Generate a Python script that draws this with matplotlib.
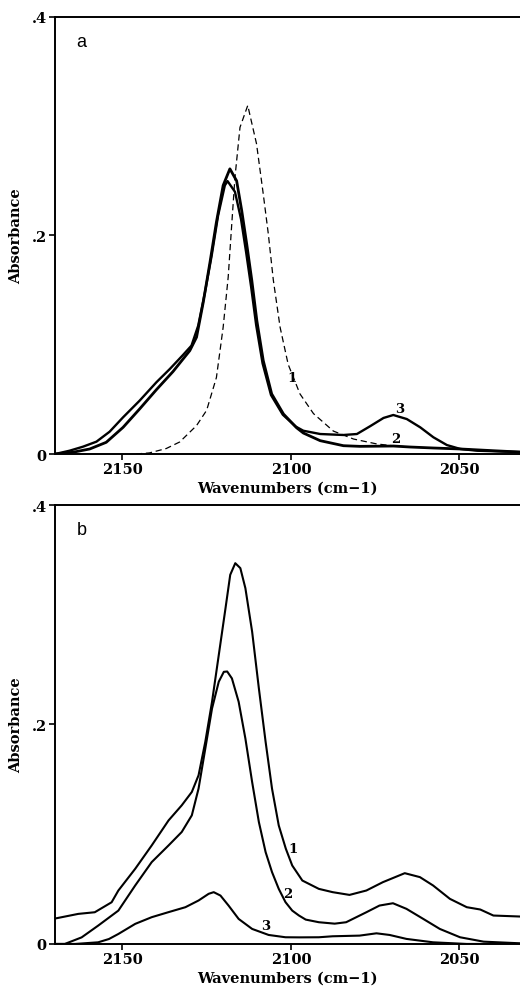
import matplotlib
matplotlib.use("Agg")
import matplotlib.pyplot as plt

# panel a
wn_a1 = [2146, 2142, 2137, 2133, 2128, 2125, 2122.1, 2120.1, 2118.6, 2117.6, 2116.6, 2115.1, 2112.8,
         2110.2, 2108.2, 2106.7, 2105.2, 2103.2, 2100.8, 2097.3, 2093.3, 2087.4, 2081.4, 2074.5,
         2069.6, 2064.6, 2057.7, 2049.7, 2044, 2032]
abs_a1 = [0, 0.001, 0.005, 0.011, 0.026, 0.04, 0.07, 0.116, 0.162, 0.208, 0.253, 0.299, 0.319,
          0.284, 0.238, 0.2015, 0.159, 0.116, 0.082, 0.055, 0.037, 0.021, 0.0137, 0.0092,
          0.0075, 0.0064, 0.0055, 0.0046, 0.003, 0.0018]

wn_a2 = [2170, 2164.7, 2159.7, 2154.8, 2149.8, 2144.9, 2139.9, 2135.0, 2130.0, 2128.0, 2126.0,
         2124.0, 2122.1, 2120.1, 2118.1, 2116.1, 2114.6, 2113.1, 2111.6, 2110.1, 2108.2, 2105.7,
         2102.2, 2098.3, 2096.3, 2091.3, 2084.4, 2079.5, 2069.6, 2064.6, 2057.7, 2049.7, 2039.8, 2032]
abs_a2 = [0, 0.0016, 0.0046, 0.0107, 0.0244, 0.0412, 0.0589, 0.0754, 0.0946, 0.1069, 0.139,
          0.1756, 0.2122, 0.2458, 0.261, 0.250, 0.223, 0.192, 0.159, 0.122, 0.0855, 0.055,
          0.0366, 0.024, 0.0192, 0.0122, 0.0076, 0.0070, 0.0073, 0.0064, 0.0055, 0.0046, 0.003, 0.0018]

wn_a3 = [2170, 2165.7, 2161.7, 2157.7, 2153.8, 2149.8, 2144.9, 2139.9, 2135.9, 2132.0, 2129.5,
         2127.5, 2125.5, 2123.5, 2121.6, 2119.6, 2118.8, 2116.6, 2114.8, 2113.3, 2111.8, 2110.3,
         2108.4, 2105.9, 2102.4, 2098.5, 2096.3, 2091.3, 2084.4, 2080.4, 2076.5, 2072.5, 2069.6,
         2065.6, 2061.6, 2057.7, 2053.7, 2049.7, 2044.7, 2032]
abs_a3 = [0, 0.003, 0.0067, 0.0113, 0.0204, 0.0336, 0.0488, 0.0657, 0.0779, 0.0907, 0.0992,
          0.1175, 0.148, 0.1817, 0.2183, 0.2458, 0.2498, 0.240, 0.215, 0.185, 0.153, 0.118,
          0.083, 0.054, 0.036, 0.025, 0.0213, 0.0183, 0.0174, 0.0183, 0.0254, 0.033, 0.0357,
          0.032, 0.0244, 0.0153, 0.0082, 0.0046, 0.003, 0.0018]

# panel b
wn_b1 = [2170.6, 2163.1, 2158.2, 2153.2, 2151.2, 2146.2, 2141.3, 2136.3, 2132.4, 2129.4, 2127.4,
         2125.4, 2123.4, 2121.4, 2119.4, 2118.0, 2116.5, 2115.0, 2113.5, 2111.5, 2109.5, 2107.5,
         2105.6, 2103.6, 2101.5, 2099.6, 2096.6, 2091.7, 2087.6, 2082.6, 2077.6, 2072.7, 2066.2,
         2061.7, 2057.8, 2052.8, 2047.8, 2043.8, 2039.9, 2032]
abs_b1 = [0.0228, 0.0274, 0.0289, 0.038, 0.0487, 0.0685, 0.0898, 0.1126, 0.1263, 0.1385, 0.1537,
          0.1842, 0.2207, 0.2633, 0.306, 0.3364, 0.347, 0.3425, 0.3242, 0.2846, 0.2329, 0.1842,
          0.1416, 0.108, 0.0868, 0.0715, 0.0578, 0.0502, 0.0472, 0.0447, 0.0487, 0.0563, 0.0645,
          0.0609, 0.0533, 0.0411, 0.0335, 0.0314, 0.0259, 0.025]

wn_b2 = [2170.6, 2167.1, 2162.1, 2157.2, 2154, 2151.2, 2146.2, 2141.3, 2136.3, 2132.4, 2129.4,
         2127.4, 2125.4, 2123.4, 2121.4, 2119.9, 2118.9, 2117.5, 2115.5, 2113.5, 2111.5, 2109.5,
         2107.5, 2105.6, 2103.6, 2101.6, 2099.6, 2097.6, 2095.6, 2091.7, 2087, 2083.6, 2077.6,
         2073.7, 2069.7, 2065.7, 2060.7, 2055.8, 2049.8, 2042.8, 2032]
abs_b2 = [0, 0, 0.006, 0.0167, 0.024, 0.0304, 0.0533, 0.0746, 0.0898, 0.102, 0.1172,
          0.1416, 0.178, 0.2146, 0.239, 0.248, 0.2483, 0.242, 0.2207, 0.1872, 0.1476, 0.1111,
          0.0837, 0.0655, 0.0502, 0.0381, 0.0304, 0.0259, 0.0222, 0.0198, 0.0185, 0.0198, 0.0289,
          0.035, 0.0371, 0.032, 0.0228, 0.0137, 0.0061, 0.0021, 0.0006]

wn_b3 = [2170, 2164.1, 2157.2, 2154, 2151.2, 2146.2, 2141.3, 2136.3, 2131.3, 2127.4, 2124.4,
         2122.9, 2120.9, 2118.5, 2115.5, 2111.5, 2106.6, 2101.6, 2097.5, 2091.7, 2087.6, 2079.6,
         2074.6, 2070.7, 2065.7, 2057.8, 2047.8, 2032]
abs_b3 = [0, 0, 0.0015, 0.0045, 0.0091, 0.0183, 0.0244, 0.029, 0.0335, 0.0396, 0.0457,
          0.0472, 0.0441, 0.035, 0.0228, 0.0137, 0.0082, 0.0061, 0.006, 0.0061, 0.007, 0.0076,
          0.0097, 0.0082, 0.0046, 0.0015, 0.0, 0.0]

labels_a = [("1", 2099.8, 0.070), ("3", 2067.6, 0.042), ("2", 2068.8, 0.0144)]
labels_b = [("1", 2099.5, 0.087), ("2", 2101.0, 0.046), ("3", 2107.5, 0.017)]

tickfont = {"family": "DejaVu Serif", "weight": "bold", "size": 10.5}
labfont = {"family": "DejaVu Serif", "weight": "bold", "size": 10.5}
numfont = {"family": "DejaVu Serif", "weight": "bold", "size": 9.5}

fig = plt.figure(figsize=(5.2, 9.87), dpi=100)
ax_a = fig.add_axes([0.1058, 0.539, 0.8942, 0.4428])
ax_b = fig.add_axes([0.1058, 0.0426, 0.8942, 0.4447])

ax_a.plot(wn_a1, abs_a1, color="black", lw=0.9, linestyle=(0, (5, 3)))
ax_a.plot(wn_a2, abs_a2, color="black", lw=2.0)
ax_a.plot(wn_a3, abs_a3, color="black", lw=1.7)
for t, x, y in labels_a:
    ax_a.text(x, y, t, ha="center", va="center", **numfont)

ax_b.plot(wn_b1, abs_b1, color="black", lw=1.5)
ax_b.plot(wn_b2, abs_b2, color="black", lw=1.5)
ax_b.plot(wn_b3, abs_b3, color="black", lw=1.5)
for t, x, y in labels_b:
    ax_b.text(x, y, t, ha="center", va="center", **numfont)

for ax, letter in [(ax_a, "a"), (ax_b, "b")]:
    ax.set_xlim(2170, 2032)
    ax.set_ylim(0, 0.4)
    ax.set_xticks([2150, 2100, 2050])
    ax.set_xticklabels(["2150", "2100", "2050"], fontdict=tickfont)
    ax.set_yticks([0, 0.2, 0.4])
    ax.set_yticklabels(["0", ".2", ".4"], fontdict=tickfont)
    ax.tick_params(direction="out", length=4, width=1.2, pad=2)
    ax.spines["right"].set_visible(False)
    for s in ["left", "top", "bottom"]:
        ax.spines[s].set_linewidth(1.4)
    ax.set_xlabel("Wavenumbers (cm\u22121)", fontdict=labfont, labelpad=3)
    ax.set_ylabel("Absorbance", fontdict=labfont, labelpad=6)
    ax.text(0.057, 0.945, letter, transform=ax.transAxes, ha="center", va="center",
            family="Liberation Sans", fontsize=13)

fig.savefig("out.png", dpi=100)
